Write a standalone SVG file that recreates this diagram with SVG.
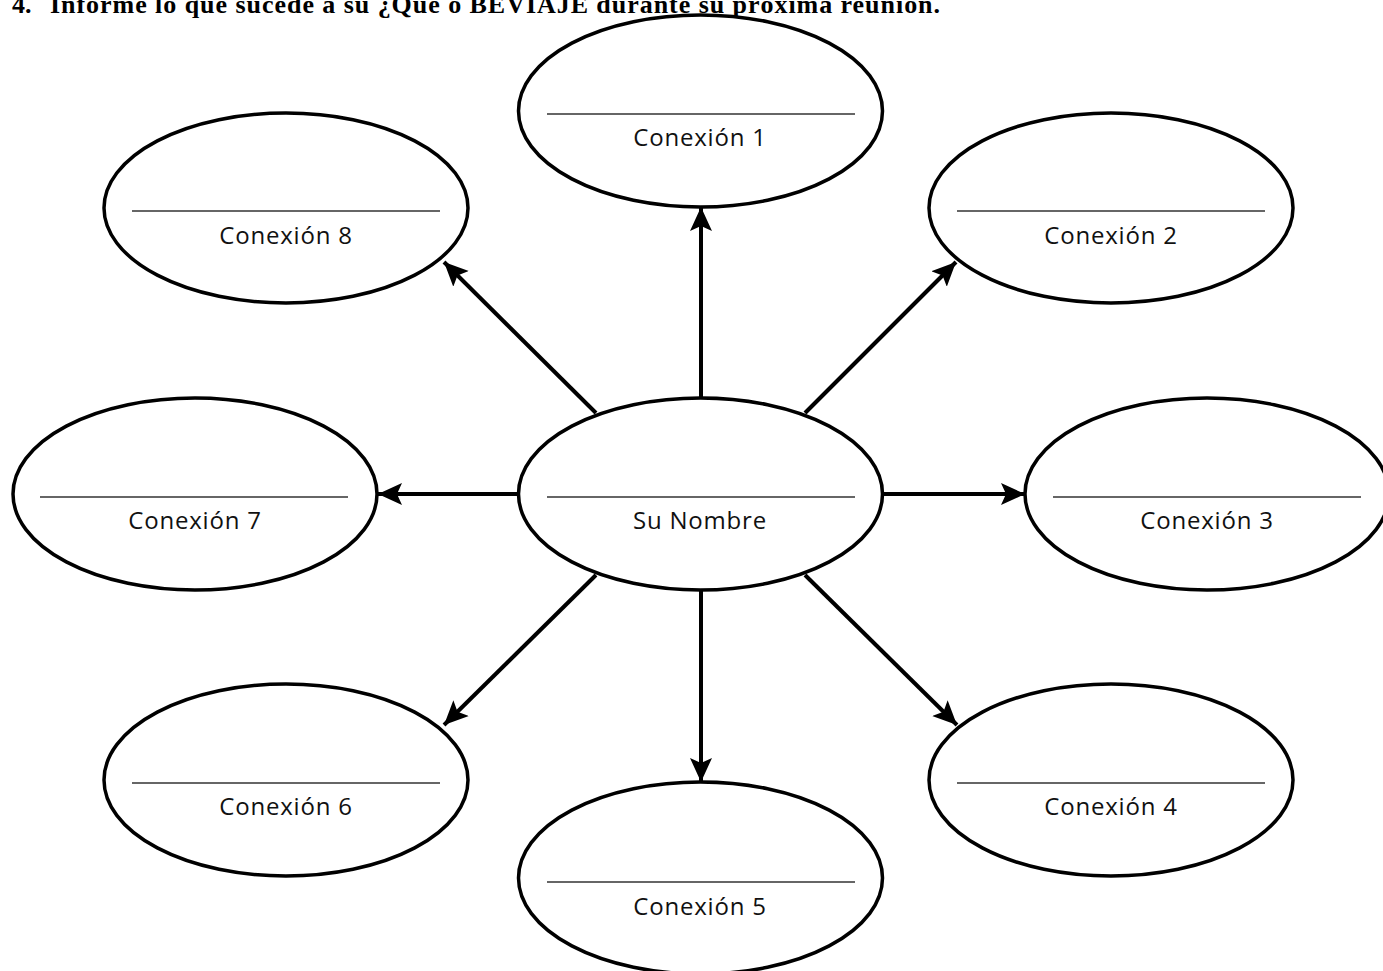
<svg xmlns="http://www.w3.org/2000/svg" width="1383" height="971" viewBox="0 0 1383 971">
<defs>
<marker id="ah" markerUnits="userSpaceOnUse" markerWidth="26" markerHeight="24" refX="24" refY="12" orient="auto">
<path d="M0,1 L24,12 L0,23 L5,12 Z" fill="#000"/>
</marker>
<style>
.node ellipse{fill:#fff;stroke:#000;stroke-width:3.5}
.node line{stroke:#333;stroke-width:1.5}
.node text{font-family:"Open Sans","Noto Sans",sans-serif;font-size:24px;letter-spacing:0.8px;fill:#111;text-anchor:middle}
.conn line{stroke:#000;stroke-width:4;marker-end:url(#ah)}
.hdr{font-family:"Liberation Serif",serif;font-size:26px;font-weight:bold;fill:#000}
</style>
</defs>
<rect width="1383" height="971" fill="#fff"/>
<text class="hdr" x="12" y="13">4.</text>
<text class="hdr" x="50" y="13" textLength="890" lengthAdjust="spacing">Informe lo que sucede a su ¿Qué o BEVIAJE durante su próxima reunión.</text>
<g class="conn">
<line x1="701" y1="398" x2="701" y2="207"/>
<line x1="701" y1="590" x2="701" y2="782"/>
<line x1="518" y1="494" x2="378" y2="494"/>
<line x1="883" y1="494" x2="1025" y2="494"/>
<line x1="805" y1="413" x2="956" y2="262"/>
<line x1="596" y1="413" x2="444" y2="262"/>
<line x1="805" y1="575" x2="957" y2="725"/>
<line x1="596" y1="575" x2="444" y2="725"/>
</g>
<g class="node" id="center"><ellipse cx="700.5" cy="494" rx="182" ry="96"/><line x1="547" y1="497" x2="855" y2="497"/><text x="700" y="529">Su Nombre</text></g>
<g class="node" id="c1"><ellipse cx="700.5" cy="111" rx="182" ry="96"/><line x1="547" y1="114" x2="855" y2="114"/><text x="700" y="146">Conexión 1</text></g>
<g class="node" id="c2"><ellipse cx="1111" cy="208" rx="182" ry="95"/><line x1="957" y1="211" x2="1265" y2="211"/><text x="1111" y="244">Conexión 2</text></g>
<g class="node" id="c3"><ellipse cx="1207" cy="494" rx="182" ry="96"/><line x1="1053" y1="497" x2="1361" y2="497"/><text x="1207" y="529">Conexión 3</text></g>
<g class="node" id="c4"><ellipse cx="1111" cy="780" rx="182" ry="96"/><line x1="957" y1="783" x2="1265" y2="783"/><text x="1111" y="815">Conexión 4</text></g>
<g class="node" id="c5"><ellipse cx="700.5" cy="878" rx="182" ry="96"/><line x1="547" y1="882" x2="855" y2="882"/><text x="700" y="915">Conexión 5</text></g>
<g class="node" id="c6"><ellipse cx="286" cy="780" rx="182" ry="96"/><line x1="132" y1="783" x2="440" y2="783"/><text x="286" y="815">Conexión 6</text></g>
<g class="node" id="c7"><ellipse cx="195" cy="494" rx="182" ry="96"/><line x1="40" y1="497" x2="348" y2="497"/><text x="195" y="529">Conexión 7</text></g>
<g class="node" id="c8"><ellipse cx="286" cy="208" rx="182" ry="95"/><line x1="132" y1="211" x2="440" y2="211"/><text x="286" y="244">Conexión 8</text></g>
</svg>
